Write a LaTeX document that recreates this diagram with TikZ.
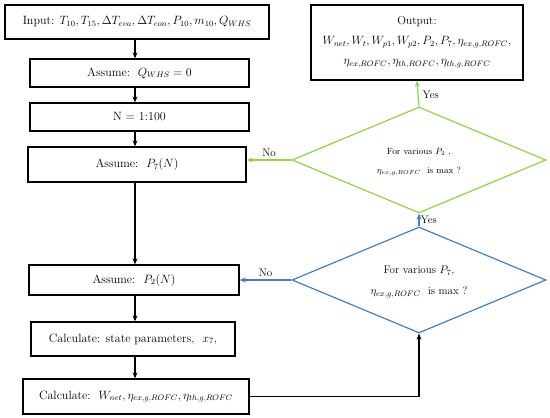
\documentclass[tikz,border=0pt]{standalone}
\usetikzlibrary{shapes.geometric,arrows.meta}
\definecolor{lgreen}{RGB}{146,208,80}
\definecolor{lblue}{RGB}{74,126,187}
\begin{document}
\begin{tikzpicture}[x=1pt,y=-1pt,
  box/.style={draw,line width=1.3pt,inner sep=0pt,font=\fontsize{12}{14}\selectfont},
  dia/.style={diamond,draw,line width=1.2pt,inner sep=0pt,minimum width=254pt,minimum height=106pt},
  arr/.style={line width=1.5pt,-{Stealth[length=6pt,width=5pt]}},
  lbl/.style={font=\fontsize{11}{13}\selectfont,inner sep=1pt}]
\path[use as bounding box,fill=white] (0,0) rectangle (550,418);
\node[box,minimum width=264pt,minimum height=34pt] (in) at (137,22) {Input: $T_{10}, T_{15}, \Delta T_{eva}, \Delta T_{con}, P_{10}, m_{10}, Q_{WHS}$};
\node[box,minimum width=219pt,minimum height=28pt] (q) at (139.5,73) {Assume:\ \ $Q_{WHS}=0$};
\node[box,minimum width=219pt,minimum height=28pt] (n) at (139.5,117) {N = 1:100};
\node[box,minimum width=218pt,minimum height=35pt] (p7) at (137,164.5) {Assume:\ \ $P_7(N)$};
\node[box,minimum width=210pt,minimum height=30pt] (p2) at (134,280) {Assume:\ \ $P_2(N)$};
\node[box,minimum width=204pt,minimum height=34pt] (cs) at (133,339) {Calculate: state parameters,\ \ $x_7$,};
\node[box,minimum width=226pt,minimum height=35pt] (cw) at (136,396.5) {Calculate:\ \ $W_{net}, \eta_{ex,g,ROFC}, \eta_{th,g,ROFC}$};
\node[box,minimum width=212pt,minimum height=75pt,align=center,font=\fontsize{11.5}{13}\selectfont] (out) at (417,42.5) {Output:\\[7pt] $W_{net}, W_t, W_{p1}, W_{p2}, P_2, P_7, \eta_{ex,g,ROFC},$\\[7pt] $\eta_{ex,ROFC}, \eta_{th,ROFC}, \eta_{th,g,ROFC}$};
\node[dia,draw=lgreen] (gd) at (419,160) {};
\node[dia,draw=lblue] (bd) at (419,280) {};
\node[font=\fontsize{9}{10}\selectfont,align=center] (gt) at (419,162) {For various $P_2$ ,\\[9pt] $\eta_{ex,g,ROFC}$\ \ is max ?};
\node[font=\fontsize{11}{12}\selectfont,align=center] (bt) at (419,282) {For various $P_7$,\\[9pt] $\eta_{ex,g,ROFC}$\ \ is max ?};
\coordinate (cx) at (135,0);
\draw[arr] (in.south -| cx) -- (q.north -| cx);
\draw[arr] (q.south -| cx) -- (n.north -| cx);
\draw[arr] (n.south -| cx) -- (p7.north -| cx);
\draw[arr] (p7.south -| cx) -- (p2.north -| cx);
\draw[arr] (p2.south -| cx) -- (cs.north -| cx);
\draw[arr] (cs.south -| cx) -- (cw.north -| cx);
\draw[arr] (cw.east) -| (bd.south);
\draw[line width=1.2pt,lblue,-{Stealth[length=6pt,width=5pt]}] (bd.north) -- (gd.south) node[pos=0.5,right,black,lbl] {Yes};
\draw[line width=1.2pt,lgreen,-{Stealth[length=6pt,width=5pt]}] (gd.north) -- (out.south) node[pos=0.45,right,black,lbl,xshift=3pt] {Yes};
\draw[line width=1.2pt,lgreen,-{Stealth[length=6pt,width=5pt]}] (gd.west) -- (p7.east |- gd.west) node[pos=0.5,above,black,lbl,yshift=2pt] {No};
\draw[line width=1.2pt,lblue,-{Stealth[length=6pt,width=5pt]}] (bd.west) -- (p2.east |- bd.west) node[pos=0.5,above,black,lbl,yshift=2pt] {No};
\end{tikzpicture}
\end{document}
